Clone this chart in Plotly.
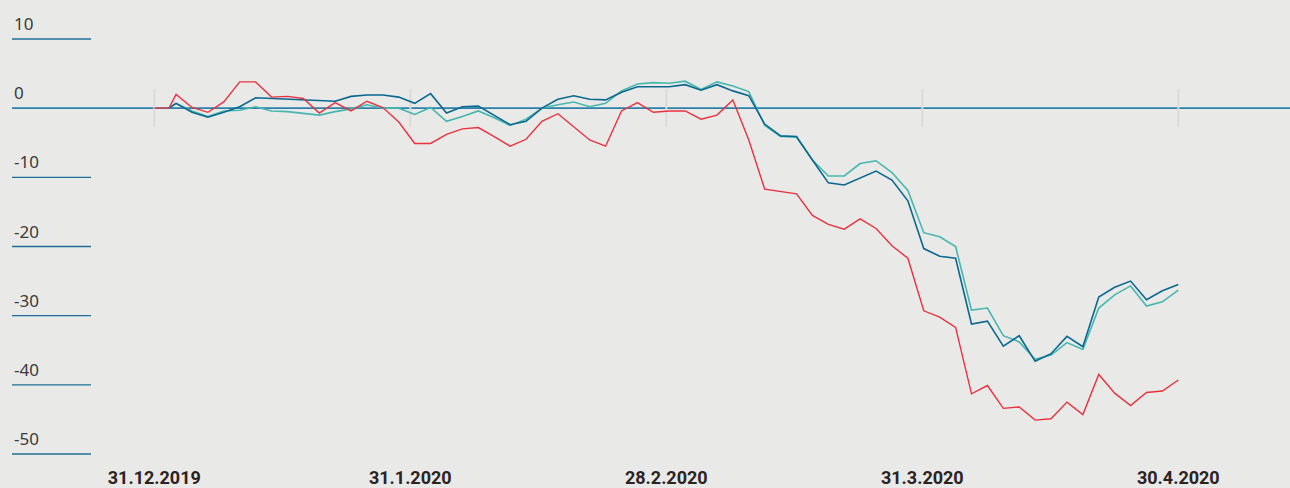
import numpy as np
import plotly.graph_objects as go

# ---- data ----
tick_pos = [0, 16, 32, 48, 64]
tick_labels = ["31.12.2019", "31.1.2020", "28.2.2020", "31.3.2020", "30.4.2020"]
y_ticks = [10, 0, -10, -20, -30, -40, -50]

lead_x = [0.0, 0.92]
main_x = list(np.linspace(1.36, 64.0, 64))

red_vals = [0.0, 0.0,
            2.0, 0.1, -0.6, 0.9, 3.8, 3.8, 1.6, 1.7, 1.4, -0.7,
            0.8, -0.4, 1.0, 0.1, -2.0, -5.1, -5.1, -3.8, -3.0, -2.8,
            -4.1, -5.5, -4.5, -1.9, -0.8, -2.7, -4.6, -5.5, -0.4, 0.8,
            -0.6, -0.4, -0.4, -1.6, -1.0, 1.2, -4.6, -11.7, -12.1, -12.4,
            -15.5, -16.8, -17.5, -16.0, -17.4, -19.9, -21.7, -29.3, -30.2, -31.7,
            -41.3, -40.1, -43.4, -43.2, -45.1, -44.9, -42.5, -44.3, -38.5, -41.2,
            -43.0, -41.1, -40.9, -39.3]

blue_vals = [0.0,
             0.7, -0.6, -1.3, -0.6, 0.2, 1.5, 1.4, 1.2, 1.2, 1.0,
             1.0, 1.7, 1.9, 1.9, 1.6, 0.7, 2.1, -0.7, 0.2, 0.3,
             -1.1, -2.4, -1.9, 0.0, 1.3, 1.8, 1.3, 1.2, 2.3, 3.1,
             3.1, 3.1, 3.4, 2.6, 3.4, 2.5, 1.8, -2.3, -4.0, -4.1,
             -7.5, -10.8, -11.1, -10.1, -9.1, -10.4, -13.4, -20.3, -21.4, -21.7,
             -31.2, -30.8, -34.4, -32.9, -36.6, -35.5, -33.0, -34.5, -27.3, -25.9,
             -25.0, -27.7, -26.4, -25.5]

teal_vals = [0.0,
             0.7, -0.4, -1.2, -0.4, -0.3, 0.2, -0.4, -0.5, -0.8, -1.0,
             -0.5, -0.1, 0.5, 0.0, 0.0, -0.9, 0.1, -1.9, -1.2, -0.4,
             -1.4, -2.5, -1.6, 0.0, 0.5, 0.9, 0.2, 0.7, 2.5, 3.5,
             3.7, 3.6, 3.9, 2.7, 3.8, 3.2, 2.4, -2.5, -4.1, -4.2,
             -7.5, -9.8, -9.8, -8.0, -7.6, -9.3, -11.9, -18.0, -18.6, -20.0,
             -29.2, -28.9, -32.9, -33.8, -36.3, -35.7, -33.9, -34.9, -28.9, -27.0,
             -25.7, -28.6, -28.0, -26.3]

red_x = lead_x + main_x
blue_x = lead_x[1:] + main_x
teal_x = lead_x[1:] + main_x

BG = "#e9e9e7"
RED = "#e8323f"
BLUE = "#0b6890"
TEAL = "#46b7ae"
AXBLUE = "#2a80ab"

fig = go.Figure()
fig.add_trace(go.Scatter(x=teal_x, y=teal_vals, mode="lines",
                         line=dict(color=TEAL, width=1.6), hoverinfo="skip"))
fig.add_trace(go.Scatter(x=blue_x, y=blue_vals, mode="lines",
                         line=dict(color=BLUE, width=1.6), hoverinfo="skip"))
fig.add_trace(go.Scatter(x=red_x, y=red_vals, mode="lines",
                         line=dict(color=RED, width=1.4), hoverinfo="skip"))

shapes = []
for tp in tick_pos:
    shapes.append(dict(type="line", xref="x", yref="y", x0=tp, x1=tp, y0=-2.7, y1=2.7,
                       line=dict(color="#dadad8", width=2), layer="below"))
for yt in y_ticks:
    if yt == 0:
        shapes.append(dict(type="line", xref="paper", yref="y", x0=12 / 1290, x1=1, y0=0, y1=0,
                           line=dict(color=AXBLUE, width=1.6), layer="below"))
    else:
        shapes.append(dict(type="line", xref="paper", yref="y", x0=12 / 1290, x1=91 / 1290,
                           y0=yt, y1=yt, line=dict(color="#1d6f99", width=1.3), layer="below"))

annotations = []
for yt in y_ticks:
    annotations.append(dict(xref="paper", yref="y", x=12 / 1290, y=yt, text=str(yt),
                            showarrow=False, xanchor="left", yanchor="bottom", yshift=2,
                            font=dict(family="Noto Sans", size=17, color="#3a3a3a")))

fig.update_layout(
    width=1290, height=488,
    margin=dict(l=0, r=0, t=0, b=28),
    paper_bgcolor=BG, plot_bgcolor=BG,
    showlegend=False,
    shapes=shapes, annotations=annotations,
    xaxis=dict(range=[-9.644, 70.98], showgrid=False, zeroline=False, showline=False,
               tickmode="array", tickvals=tick_pos, automargin=False,
               ticktext=["<b>" + t + "</b>" for t in tick_labels], ticks="",
               ticklabelstandoff=5,
               tickfont=dict(family="Roboto", size=18, color="#2b2323")),
    yaxis=dict(range=[-50.87, 15.64], showgrid=False, zeroline=False, showline=False,
               showticklabels=False, automargin=False),
)

fig.write_html("out.html", config={"displayModeBar": False},
               post_script="document.body.style.margin='0';document.body.style.background='" + BG + "';")
